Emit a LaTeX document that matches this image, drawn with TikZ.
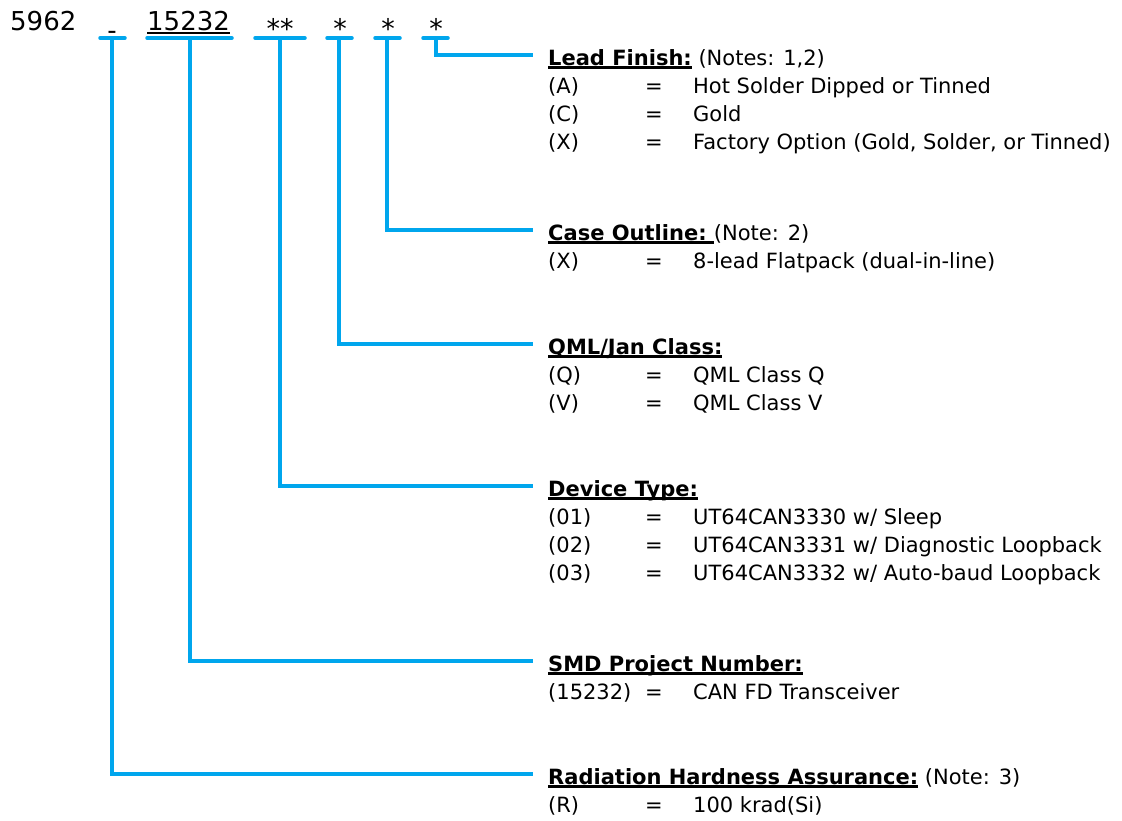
\documentclass[tikz,border=0pt]{standalone}
\usepackage{fontspec}
\setmainfont{DejaVu Sans}
\definecolor{partblue}{RGB}{0,166,237}
\newsavebox\ulbox
% underline at a fixed depth, through the descenders
\newcommand{\ulin}[2][-3.5pt]{\sbox\ulbox{#2}\rlap{\rule[#1]{\wd\ulbox}{2.3pt}}\usebox\ulbox}
% one option row: name, baseline, code, meaning
\newcommand{\optrow}[4]{%
  \node[txt] (#1-code) at (548,#2) {#3};
  \node[txt] (#1-eq) at (645,#2) {=};
  \node[txt] (#1-val) at (693,#2) {#4};}
\tikzset{
  conn/.style={draw=partblue, line width=3.5pt, line cap=round},
  txt/.style={inner sep=0pt, anchor=base west, font=\fontsize{21}{25}\selectfont},
  big/.style={inner sep=0pt, anchor=base west, font=\fontsize{26}{30}\selectfont},
  star/.style={inner sep=0pt, anchor=base, font=\fontsize{27}{30}\selectfont}
}
\begin{document}
\begin{tikzpicture}[x=1pt, y=-1pt]
    \useasboundingbox (0,0) rectangle (1122,820);

    % Part number and its fields
    \node[big] (base) at (10,30) {5962};
    \node[big, anchor=base] (dash) at (112,39) {-};
    \node[big] (proj) at (147,30) {\ulin[-4pt]{15232}};
    \node[star] (stdev) at (280,38) {**};
    \node[star] (stqml) at (340,38) {*};
    \node[star] (stcase) at (388,38) {*};
    \node[star] (stlead) at (436,38) {*};

    % Bars under each field
    \foreach \nm/\xa/\xb/\xm in {rha/100/125/112, smd/147/232/190, dev/255/305/280,
                                 qml/327/352/339, case/375/400/387, lead/423/448/436} {
        \draw[conn] (\xa,38) -- (\xb,38);
        \coordinate (\nm-top) at (\xm,38);
    }

    % Field descriptions
    \node[txt] (lead) at (548,65) {\ulin{\bfseries Lead Finish:} (Notes: 1,2)};
    \optrow{lf1}{93}{(A)}{Hot Solder Dipped or Tinned}
    \optrow{lf2}{121}{(C)}{Gold}
    \optrow{lf3}{149}{(X)}{Factory Option (Gold, Solder, or Tinned)}

    \node[txt] (case) at (548,240) {\ulin{\bfseries Case Outline:\ }(Note: 2)};
    \optrow{co1}{268}{(X)}{8-lead Flatpack (dual-in-line)}

    \node[txt] (qml) at (548,354) {\ulin{\bfseries QML/Jan Class:}};
    \optrow{qc1}{382}{(Q)}{QML Class Q}
    \optrow{qc2}{410}{(V)}{QML Class V}

    \node[txt] (dev) at (548,496) {\ulin{\bfseries Device Type:}};
    \optrow{dt1}{524}{(01)}{UT64CAN3330 w/ Sleep}
    \optrow{dt2}{552}{(02)}{UT64CAN3331 w/ Diagnostic Loopback}
    \optrow{dt3}{580}{(03)}{UT64CAN3332 w/ Auto-baud Loopback}

    \node[txt] (smd) at (548,671) {\ulin{\bfseries SMD Project Number:}};
    \optrow{sp1}{699}{(15232)}{CAN FD Transceiver}

    \node[txt] (rha) at (548,784) {\ulin{\bfseries Radiation Hardness Assurance:} (Note: 3)};
    \optrow{rh1}{812}{(R)}{100 krad(Si)}

    % Leaders from the fields to their descriptions
    \foreach \nm in {lead, case, qml, dev, smd, rha}
        \draw[conn, line cap=butt] (\nm-top) |- ([xshift=-15pt, yshift=10pt]\nm.base west);
\end{tikzpicture}
\end{document}
